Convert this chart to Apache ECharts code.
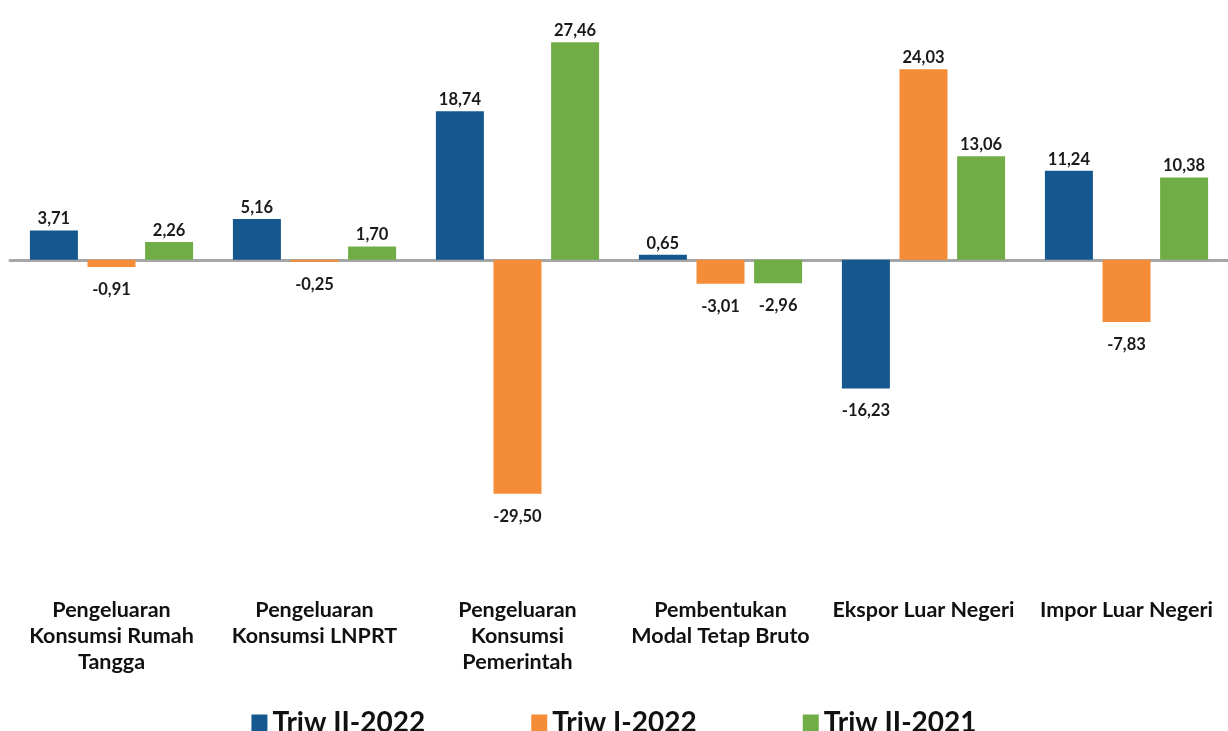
<!DOCTYPE html>
<html>
<head>
<meta charset="utf-8">
<script src="https://cdn.jsdelivr.net/npm/echarts@6/dist/echarts.min.js"></script>
<style>html,body{margin:0;padding:0;background:#fff;}#c{width:1228px;height:731px;}</style>
</head>
<body>
<div id="c"></div>
<script>
var categories = [
  'Pengeluaran\nKonsumsi Rumah\nTangga',
  'Pengeluaran\nKonsumsi LNPRT',
  'Pengeluaran\nKonsumsi\nPemerintah',
  'Pembentukan\nModal Tetap Bruto',
  'Ekspor Luar Negeri',
  'Impor Luar Negeri'
];
var seriesNames = ['Triw II-2022', 'Triw I-2022', 'Triw II-2021'];
var triwII2022 = [3.71, 5.16, 18.74, 0.65, -16.23, 11.24];
var triwI2022 = [-0.91, -0.25, -29.50, -3.01, 24.03, -7.83];
var triwII2021 = [2.26, 1.70, 27.46, -2.96, 13.06, 10.38];
var colors = ['#15578F', '#F58D38', '#70AD47'];

var chart = echarts.init(document.getElementById('c'));
function fmt(v) { return v.toFixed(2).replace('.', ','); }
function mkData(arr) {
  return arr.map(function (v) {
    return {
      value: v,
      label: v >= 0 ? { position: 'top', distance: 3 } : { position: 'bottom', distance: 14 }
    };
  });
}
var allData = [triwII2022, triwI2022, triwII2021];
var series = allData.map(function (arr, i) {
  return {
    name: seriesNames[i],
    type: 'bar',
    data: mkData(arr),
    barWidth: 48,
    barGap: '20%',
    itemStyle: { color: colors[i] },
    label: {
      show: true,
      fontFamily: 'Lato',
      fontWeight: 'bold',
      fontSize: 16.5,
      color: '#1a1a1a',
      formatter: function (p) { return fmt(p.value); }
    }
  };
});

chart.setOption({
  animation: false,
  textStyle: { fontFamily: 'Lato' },
  grid: { left: 10, right: 0, top: 22, height: 555 },
  legend: {
    top: 704,
    left: 'center',
    itemWidth: 16,
    itemHeight: 17,
    itemGap: 106,
    icon: 'rect',
    textStyle: { fontFamily: 'Lato', fontWeight: 'bold', fontSize: 28, color: '#111' },
    data: seriesNames
  },
  xAxis: [{
    type: 'category',
    data: categories,
    axisLine: { show: false, onZero: false },
    axisTick: { show: false },
    axisLabel: {
      interval: 0,
      margin: 20,
      fontFamily: 'Lato',
      fontWeight: 'bold',
      fontSize: 21.5,
      lineHeight: 26,
      color: '#111'
    }
  }, {
    type: 'category',
    data: categories,
    position: 'bottom',
    axisLine: { show: true, onZero: true, lineStyle: { color: '#A6A6A6', width: 3 } },
    axisTick: { show: false },
    axisLabel: { show: false },
    splitLine: { show: false }
  }],
  yAxis: {
    type: 'value',
    min: -40,
    max: 30,
    show: false,
    splitLine: { show: false }
  },
  series: series
});
</script>
</body>
</html>
